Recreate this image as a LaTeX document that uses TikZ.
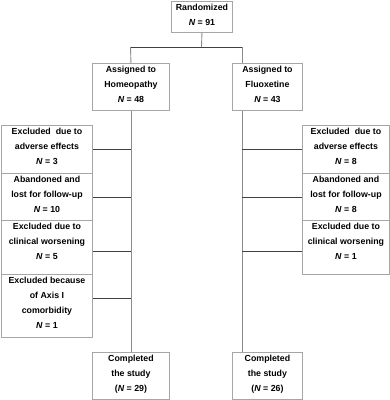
\documentclass[tikz,border=0pt]{standalone}
\usepackage{fontspec}
\setmainfont{Liberation Sans}
\usetikzlibrary{calc}
\newcommand{\bx}[3]{\parbox[c][#2pt][t]{#1pt}{\vspace*{2.5pt}\centering #3\par}}
\tikzset{
  box/.style={draw=black!35, line width=0.9pt, inner sep=0pt, anchor=north west,
    font=\fontsize{8.8}{15}\selectfont\bfseries},
  vline/.style={draw=black!45, line width=0.9pt},
  hline/.style={draw=black!75, line width=0.9pt}
}
\begin{document}
\begin{tikzpicture}[x=1pt,y=-1pt]
\useasboundingbox (0,0) rectangle (390,400);
% boxes
\node[box] (rand)  at (171,1)   {\bx{61}{31}{Randomized\\\textit{N} = 91}};
\node[box] (homeo) at (92,63)   {\bx{77}{47}{Assigned to\\Homeopathy\\\textit{N} = 48}};
\node[box] (fluox) at (232,63)  {\bx{70}{47}{Assigned to\\Fluoxetine\\\textit{N} = 43}};
\node[box] (L1) at (1,125) {\bx{91}{48}{Excluded~ due to\\adverse effects\\\textit{N} = 3}};
\node[box] (L2) at (1,173) {\bx{91}{47}{Abandoned and\\lost for follow-up\\\textit{N} = 10}};
\node[box] (L3) at (1,220) {\bx{91}{54}{Excluded due to\\clinical worsening\\\textit{N} = 5}};
\node[box] (L4) at (1,274) {\bx{91}{63}{Excluded because\\of Axis I\\comorbidity\\\textit{N} = 1}};
\node[box] (R1) at (302,125) {\bx{87}{48}{Excluded~ due to\\adverse effects\\\textit{N} = 8}};
\node[box] (R2) at (302,173) {\bx{87}{47}{Abandoned and\\lost for follow-up\\\textit{N} = 8}};
\node[box] (R3) at (302,220) {\bx{87}{54}{Excluded due to\\clinical worsening\\\textit{N} = 1}};
\node[box] (cL) at (92,352)  {\bx{77}{47}{Completed\\the study\\(\textit{N} = 29)}};
\node[box] (cR) at (232,352) {\bx{70}{47}{Completed\\the study\\(\textit{N} = 26)}};
% split coordinates
\coordinate (sp) at (201.5,47);
\coordinate (hl) at (130.5,47);
\coordinate (hr) at (242,47);
\coordinate (ft) at ($(fluox.north west)+(10,0)$);
\coordinate (fb) at ($(fluox.south west)+(10,0)$);
\coordinate (ct) at ($(cR.north west)+(10,0)$);
% connectors
\draw[vline] (rand.south) -- (sp);
\draw[hline] (hl) -- (hr);
\draw[vline] (hl) -- (homeo.north);
\draw[vline] (hr) -- (ft);
\draw[vline] (homeo.south) -- (cL.north);
\draw[vline] (fb) -- (ct);
\draw[hline] (L1.east) -- (L1.east -| homeo.south);
\draw[hline] (L2.east) -- (L2.east -| homeo.south);
\draw[hline] ($(L3.north east)+(0,31)$) coordinate (l3) -- (l3 -| homeo.south);
\draw[hline] ($(L4.north east)+(0,24)$) coordinate (l4) -- (l4 -| homeo.south);
\draw[hline] (R1.west) -- (R1.west -| fb);
\draw[hline] (R2.west) -- (R2.west -| fb);
\draw[hline] ($(R3.north west)+(0,31)$) coordinate (r3) -- (r3 -| fb);
\end{tikzpicture}
\end{document}
